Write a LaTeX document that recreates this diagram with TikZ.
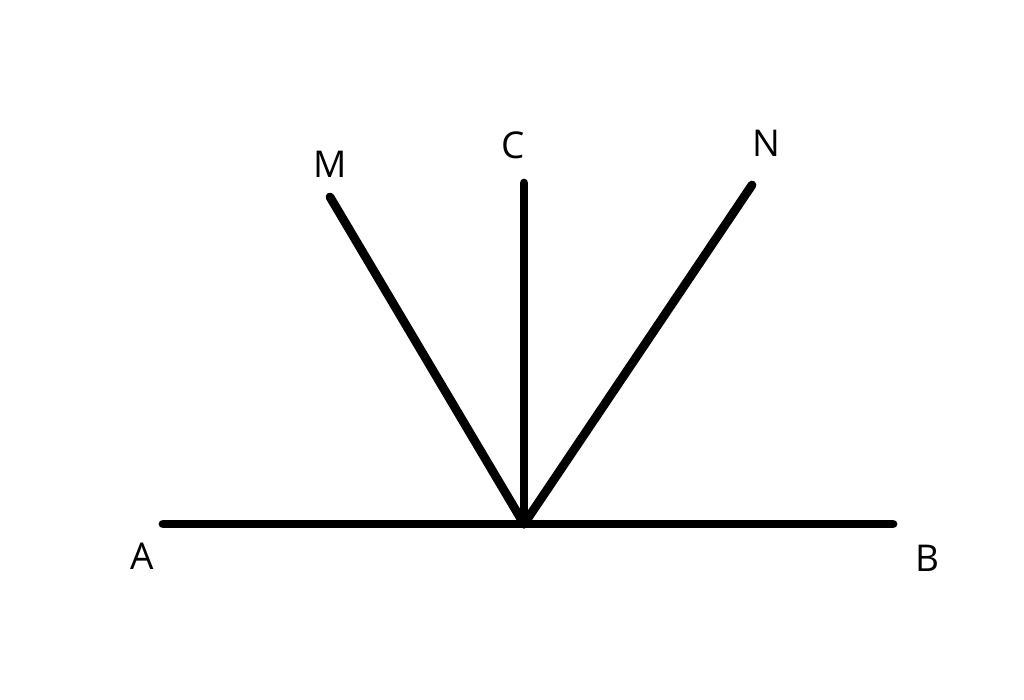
\documentclass[tikz,border=0pt]{standalone}
\usepackage{fontspec}
\setmainfont{Open Sans}
\begin{document}
\begin{tikzpicture}[x=0.01cm,y=-0.01cm,
  seg/.style={line width=2.5pt,line cap=round,black},
  lbl/.style={font=\fontsize{10.5pt}{12.5pt}\selectfont,inner sep=0pt}]
\useasboundingbox (0,0) rectangle (1024,699);
\coordinate (O) at (524,524);
\coordinate (Aend) at (163,524);
\coordinate (Bend) at (893,524);
\coordinate (Mend) at (330,197);
\coordinate (Cend) at (524,183);
\coordinate (Nend) at (752,185);
\draw[seg] (Aend) -- (Bend);
\draw[seg] (O) -- (Mend);
\draw[seg] (O) -- (Cend);
\draw[seg] (O) -- (Nend);
\node[lbl] (A) at (142,556) {A};
\node[lbl] (B) at (927,558) {B};
\node[lbl] (M) at (330,164) {M};
\node[lbl] (C) at (513,145) {C};
\node[lbl] (N) at (766,143) {N};
\end{tikzpicture}
\end{document}
